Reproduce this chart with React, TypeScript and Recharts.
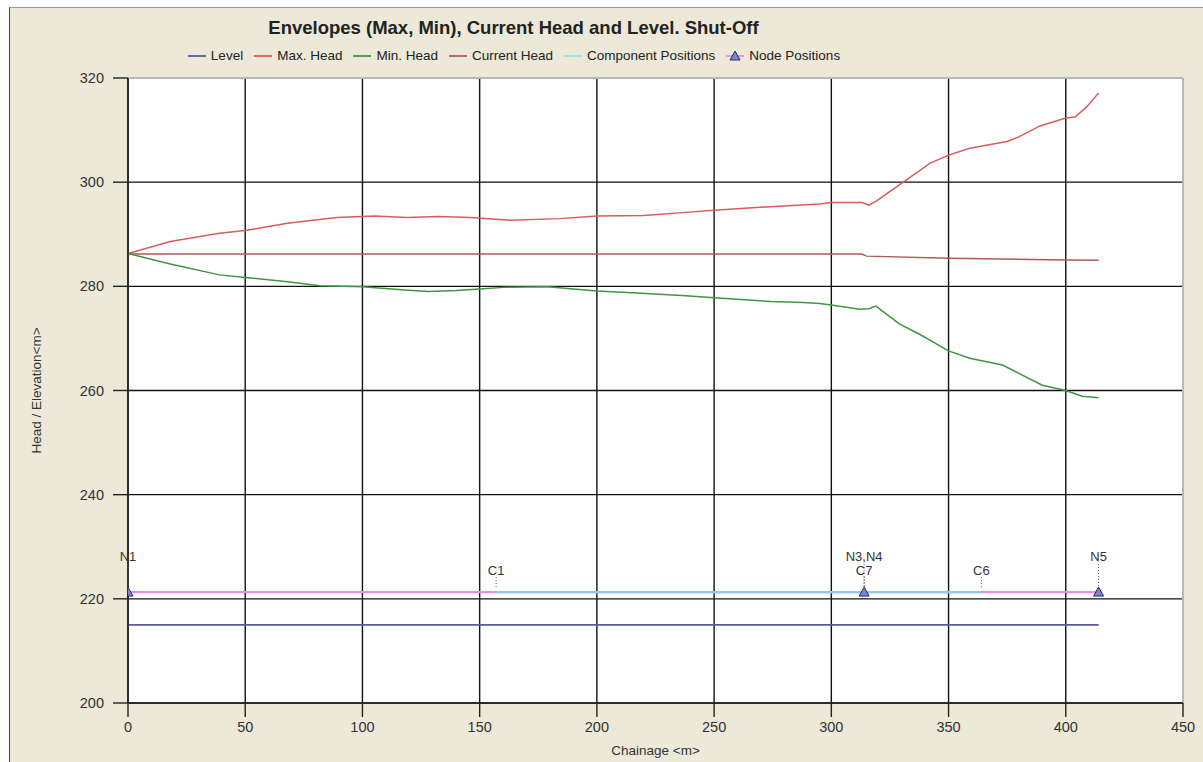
import React from "react";
import {
  LineChart, Line, XAxis, YAxis, CartesianGrid, LabelList, ReferenceLine,
} from "recharts";

// chainage ticks / head ticks
const X_TICKS = [0, 50, 100, 150, 200, 250, 300, 350, 400, 450];
const Y_TICKS = [200, 220, 240, 260, 280, 300, 320];

// Max. Head envelope
const MAX_X = [0, 18, 39, 50, 68, 89, 105, 119, 132, 146, 163, 184, 200, 220, 238, 250, 274, 295, 300, 313, 316, 319, 331, 342, 350, 359, 375, 380, 389, 400, 404, 409, 414];
const MAX_Y = [286.3, 288.6, 290.2, 290.7, 292.1, 293.2, 293.5, 293.2, 293.4, 293.2, 292.7, 293.0, 293.5, 293.6, 294.2, 294.6, 295.3, 295.8, 296.1, 296.1, 295.6, 296.3, 300.1, 303.6, 305.2, 306.5, 307.8, 308.7, 310.8, 312.3, 312.5, 314.5, 317.1];

// Min. Head envelope
const MIN_X = [0, 18, 39, 50, 68, 82, 100, 118, 128, 140, 150, 160, 179, 190, 200, 217, 238, 250, 274, 288, 295, 300, 312, 316, 319, 329, 338, 350, 359, 373, 380, 390, 400, 407, 414];
const MIN_Y = [286.3, 284.3, 282.2, 281.7, 280.9, 280.1, 279.9, 279.3, 279.0, 279.2, 279.5, 279.8, 279.9, 279.5, 279.1, 278.7, 278.2, 277.8, 277.1, 276.9, 276.7, 276.4, 275.6, 275.7, 276.2, 272.8, 270.7, 267.6, 266.2, 264.9, 263.3, 261.0, 260.0, 258.9, 258.6];

// Current head
const CUR_X = [0, 313, 315, 350, 400, 414];
const CUR_Y = [286.2, 286.2, 285.8, 285.4, 285.05, 285.0];

// Level
const LEVEL_X = [0, 414];
const LEVEL_Y = [215, 215];

// node + component positions
const PIPE_Y = 221.3;
const NODE_X = [0, 314, 414];
const NODE_NAMES = ["N1", "N3,N4", "N5"];
const COMP_X = [157, 314, 364];
const COMP_NAMES = ["C1", "C7", "C6"];

const zip = (xs: number[], ys: number[]) => xs.map((x, i) => ({ x, y: ys[i] }));

const maxData = zip(MAX_X, MAX_Y);
const minData = zip(MIN_X, MIN_Y);
const curData = zip(CUR_X, CUR_Y);
const levelData = zip(LEVEL_X, LEVEL_Y);
const nodeData = NODE_X.map((x, i) => ({ x, y: PIPE_Y, name: NODE_NAMES[i] }));
const compData = COMP_X.map((x, i) => ({ x, y: PIPE_Y, name: COMP_NAMES[i] }));

const C = {
  level: "#5858a6",
  max: "#d95c5c",
  min: "#3f963f",
  current: "#b05a5a",
  comp: "#8ccbf0",
  compLegend: "#8fe2e8",
  node: "#ec8ce6",
  tri: "#7a86cc",
};

const FONT = "'Liberation Sans', Arial, sans-serif";

const LEGEND = [
  { name: "Level", color: C.level },
  { name: "Max. Head", color: C.max },
  { name: "Min. Head", color: C.min },
  { name: "Current Head", color: C.current },
  { name: "Component Positions", color: C.compLegend },
  { name: "Node Positions", color: C.node, marker: true },
];

function Triangle({ cx, cy }: any) {
  if (cx == null || cy == null) return null;
  return (
    <path
      d={`M${cx},${cy - 5} L${cx + 5},${cy + 4} L${cx - 5},${cy + 4} Z`}
      fill={C.tri}
      stroke="#2a2a6a"
      strokeWidth={1}
    />
  );
}

function makeTag(textOff: number, lineTop: number) {
  return (props: any) => {
    const { x, y, value } = props;
    return (
      <g>
        <line x1={x} x2={x} y1={y - lineTop} y2={y - 3} stroke="#555" strokeDasharray="1 2" />
        <text x={x} y={y - textOff} textAnchor="middle" fontSize={13} fill="#333" fontFamily={FONT}>
          {value}
        </text>
      </g>
    );
  };
}

const NodeTag = makeTag(31, 28);
const CompTag = makeTag(17, 15);

export default function App() {
  return (
    <div style={{ position: "absolute", left: 0, top: 0, width: 1203, height: 762, background: "#fff", fontFamily: FONT }}>
      <div
        style={{
          position: "absolute", left: 9, top: 7, right: 0, bottom: 0,
          background: "#ece9d8", borderLeft: "1px solid #444", borderTop: "1px solid #999",
        }}
      />
      <div style={{ position: "absolute", left: 0, width: 1027, top: 17, textAlign: "center", fontSize: 18.5, fontWeight: "bold", color: "#222" }}>
        Envelopes (Max, Min), Current Head and Level. Shut-Off
      </div>
      <div style={{ position: "absolute", left: 0, width: 1027, top: 48, display: "flex", justifyContent: "center", gap: 10, fontSize: 13.5, color: "#222" }}>
        {LEGEND.map((it) => (
          <div key={it.name} style={{ display: "flex", alignItems: "center", gap: 4 }}>
            <svg width={20} height={12}>
              <line x1={1} x2={19} y1={6} y2={6} stroke={it.color} strokeWidth={1.8} />
              {it.marker && <Triangle cx={10} cy={6} />}
            </svg>
            <span>{it.name}</span>
          </div>
        ))}
      </div>
      <div style={{ position: "absolute", left: 0, top: 0 }}>
        <LineChart width={1203} height={762} margin={{ top: 78, right: 20, bottom: 0, left: 0 }}>
          <CartesianGrid fill="#fff" stroke="#111" strokeWidth={1.4} />
          <XAxis
            type="number"
            dataKey="x"
            domain={[0, 450]}
            ticks={X_TICKS}
            allowDataOverflow
            height={59}
            tickSize={14}
            tickMargin={5}
            stroke="#222"
            strokeWidth={1.4}
            tick={{ fontSize: 14.5, fill: "#333", fontFamily: FONT }}
            label={{ value: "Chainage <m>", position: "insideBottom", offset: 7, fontSize: 13.5, fill: "#333", fontFamily: FONT }}
          />
          <YAxis
            type="number"
            dataKey="y"
            domain={[200, 320]}
            ticks={Y_TICKS}
            allowDataOverflow
            width={128}
            tickSize={15}
            tickMargin={9}
            stroke="#222"
            strokeWidth={1.4}
            tick={{ fontSize: 14.5, fill: "#333", fontFamily: FONT }}
            label={{ value: "Head / Elevation<m>", angle: -90, position: "insideLeft", offset: 36, style: { textAnchor: "middle" }, fontSize: 13.5, fill: "#333", fontFamily: FONT }}
          />
          <ReferenceLine y={320} stroke="#b8b8b8" strokeWidth={2} />
          <ReferenceLine x={450} stroke="#b8b8b8" strokeWidth={2} />
          <Line data={levelData} dataKey="y" name="Level" stroke={C.level} strokeWidth={1.8} dot={false} isAnimationActive={false} />
          <Line data={nodeData} dataKey="y" name="Node Positions" stroke={C.node} strokeWidth={2.2} dot={<Triangle />} isAnimationActive={false}>
            <LabelList dataKey="name" content={NodeTag} />
          </Line>
          <Line data={compData} dataKey="y" name="Component Positions" stroke={C.comp} strokeWidth={2.2} dot={false} isAnimationActive={false}>
            <LabelList dataKey="name" content={CompTag} />
          </Line>
          <Line data={curData} dataKey="y" name="Current Head" stroke={C.current} strokeWidth={1.5} dot={false} isAnimationActive={false} />
          <Line data={maxData} dataKey="y" name="Max. Head" stroke={C.max} strokeWidth={1.5} dot={false} isAnimationActive={false} />
          <Line data={minData} dataKey="y" name="Min. Head" stroke={C.min} strokeWidth={1.5} dot={false} isAnimationActive={false} />
        </LineChart>
      </div>
    </div>
  );
}
